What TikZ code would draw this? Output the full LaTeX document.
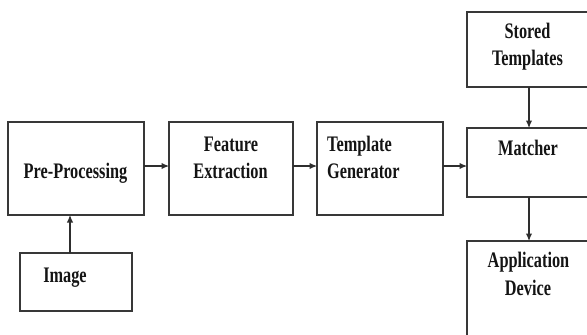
\documentclass[tikz,border=0pt]{standalone}
\usepackage{fontspec}
\usepackage{graphicx}
\setmainfont{Liberation Serif}
\usetikzlibrary{arrows.meta}

% tall, narrow bold label text
\newcommand{\tallbf}[1]{\scalebox{1}[1.36]{\bfseries #1}}

\tikzset{
  blk/.style={draw=black!78, line width=1.3pt, inner sep=0pt, outer sep=0pt,
              anchor=north west},
  lbl/.style={anchor=base, inner sep=0pt, text=black!92,
              font=\fontsize{16.3}{19}\selectfont},
  arr/.style={draw=black!82, line width=1.1pt,
              -{Latex[length=7.5pt,width=6.5pt]}},
}

\begin{document}
\begin{tikzpicture}[x=1pt, y=-1pt]
  \useasboundingbox (0,0) rectangle (587,335);
  \clip (0,0) rectangle (587,335);

  % blocks
  \node[blk, minimum width=136pt, minimum height=93pt]  (pre)     at (8,122)   {};
  \node[blk, minimum width=124pt, minimum height=93pt]  (feat)    at (169,122) {};
  \node[blk, minimum width=112pt, minimum height=58pt]  (img)     at (20,253)  {};
  \node[blk, minimum width=126pt, minimum height=93pt]  (tgen)    at (317,122) {};
  \node[blk, minimum width=140pt, minimum height=75pt]  (stored)  at (467,12)  {};
  \node[blk, minimum width=140pt, minimum height=69pt]  (matcher) at (467,128) {};
  \node[blk, minimum width=140pt, minimum height=110pt] (app)     at (467,241) {};

  % labels
  \node[lbl] (tPre)   at (75.5,178)  {\tallbf{Pre-Processing}};
  \node[lbl] (tImg)   at (65,282)    {\tallbf{Image}};
  \node[lbl] (tFeat1) at (231,151)   {\tallbf{Feature}};
  \node[lbl] (tFeat2) at (230.5,178) {\tallbf{Extraction}};
  \node[lbl, anchor=base west] (tGen1) at (327,151) {\tallbf{Template}};
  \node[lbl, anchor=base west] (tGen2) at (327,178) {\tallbf{Generator}};
  \node[lbl] (tSto1)  at (527.5,38)  {\tallbf{Stored}};
  \node[lbl] (tSto2)  at (527.5,65)  {\tallbf{Templates}};
  \node[lbl] (tMat)   at (528,155)   {\tallbf{Matcher}};
  \node[lbl] (tApp1)  at (528.5,267) {\tallbf{Application}};
  \node[lbl] (tApp2)  at (528,295)   {\tallbf{Device}};

  % connector guides
  \coordinate (row)  at (0,166);
  \coordinate (col)  at (529,0);
  \coordinate (imgx) at (70,0);

  % connectors
  \draw[arr] (img.north -| imgx) -- (pre.south -| imgx);
  \draw[arr] (pre.east |- row)   -- (feat.west |- row);
  \draw[arr] (feat.east |- row)  -- (tgen.west |- row);
  \draw[arr] (tgen.east |- row)  -- (matcher.west |- row);
  \draw[arr] (stored.south -| col)  -- (matcher.north -| col);
  \draw[arr] (matcher.south -| col) -- (app.north -| col);
\end{tikzpicture}
\end{document}
